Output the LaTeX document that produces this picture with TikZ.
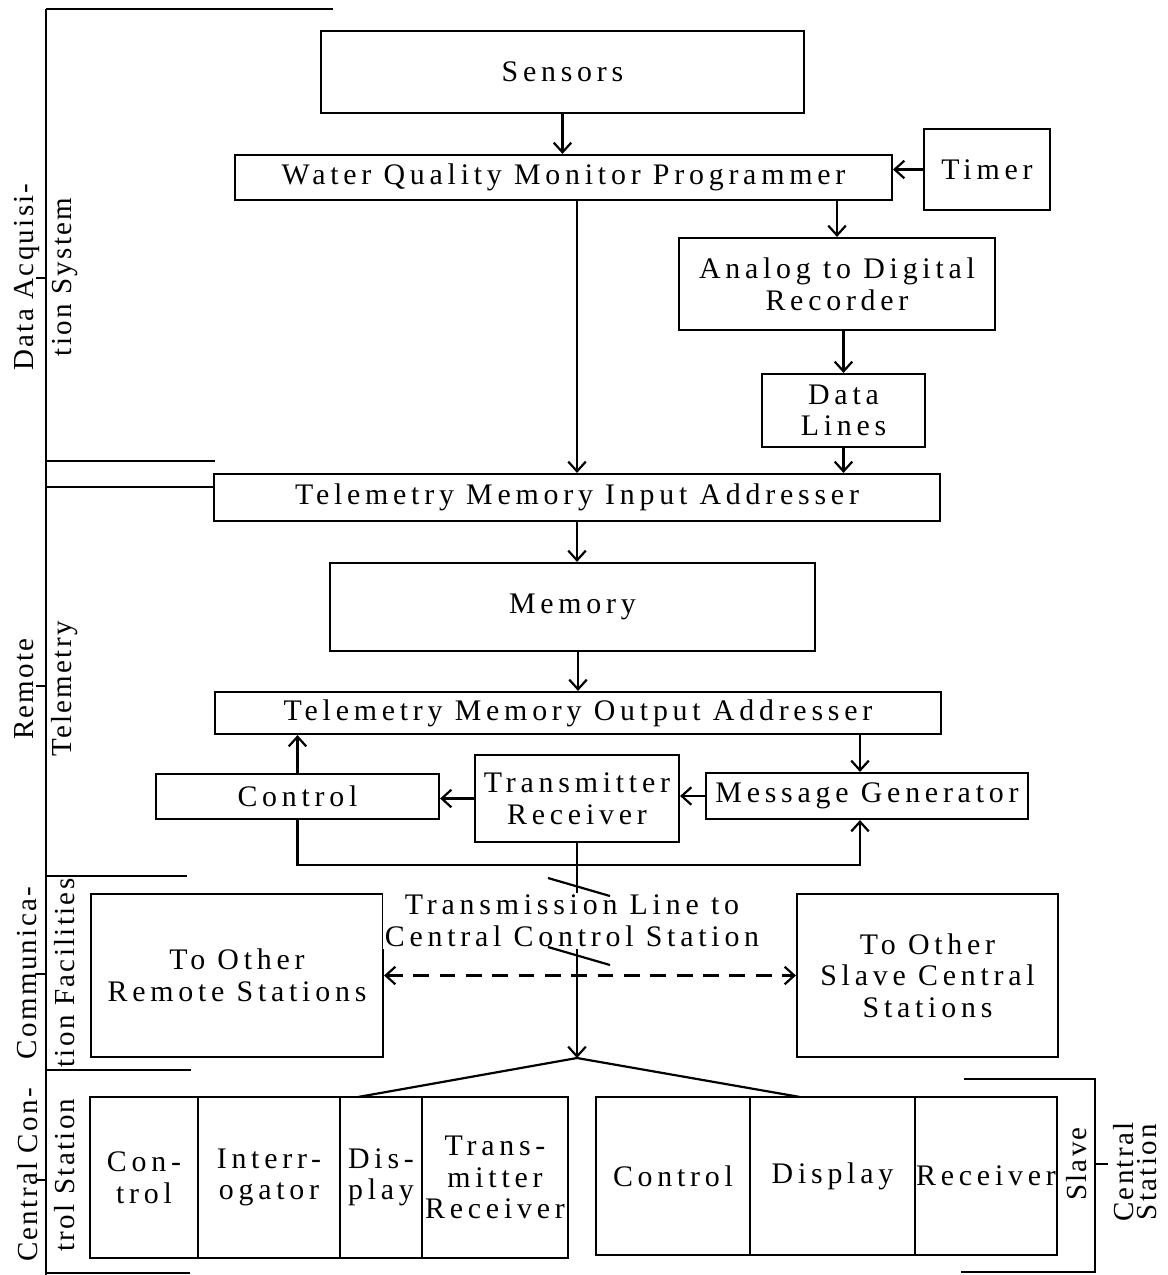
\documentclass[tikz,border=0pt]{standalone}
\usepackage{fontspec}
\setmainfont{Liberation Serif}[LetterSpace=16]
\usetikzlibrary{arrows.meta}

\newcommand{\typefont}{\fontsize{17}{18}\selectfont}

\begin{document}
\begin{tikzpicture}[x=0.02cm,y=-0.02cm,line width=1.25pt,
  >={Straight Barb[length=5.5pt,width=10pt]},
  every node/.style={font=\typefont},
  blk/.style={draw,align=center,inner sep=0pt},
  lbl/.style={rotate=90,align=center,inner sep=0pt,
    font=\fontsize{16.5}{18}\selectfont\addfontfeature{LetterSpace=8}}]

\useasboundingbox (0,0) rectangle (1168,1275);

% bracket on the left
\draw (46,9) -- (46,1275);
\draw (46,9) -- (333,9);
\draw (46,461) -- (215,461);
\draw (46,487) -- (215,487);
\draw (46,876) -- (187,876);
\draw (46,1070) -- (191,1070);
\draw (46,1273) -- (190,1273);
\draw (36,278) -- (46,278);
\draw (36,686) -- (46,686);
\draw (36,974) -- (46,974);
\draw (36,1180) -- (46,1180);

\node[lbl] at (46,277) {Data Acquisi-\\[3.5pt]tion System};
\node[lbl] at (46,689) {Remote\\[3.5pt]Telemetry};
\node[lbl] at (46,973) {Communica-\\[3.5pt]tion Facilities};
\node[lbl] at (46,1175) {Central Con-\\[3.5pt]trol Station};

% data acquisition
\node[blk,minimum width=9.66cm,minimum height=1.64cm] (sensors) at (562.5,72) {Sensors};
\node[blk,minimum width=13.14cm,minimum height=0.9cm] (wqmp) at (563.5,177.5) {Water Quality Monitor Programmer};
\node[blk,minimum width=2.52cm,minimum height=1.62cm] (timer) at (987,169.5) {Timer};
\node[blk,minimum width=6.32cm,minimum height=1.84cm] (adr) at (837,284) {Analog to Digital\\Recorder};
\node[blk,minimum width=3.26cm,minimum height=1.46cm] (dlines) at (843.5,410.5) {Data\\Lines};

% remote telemetry
\node[blk,minimum width=14.52cm,minimum height=0.94cm] (tmia) at (577,497.5) {Telemetry Memory Input Addresser};
\node[blk,minimum width=9.7cm,minimum height=1.76cm] (memory) at (572.5,607) {Memory};
\node[blk,minimum width=14.52cm,minimum height=0.84cm] (tmoa) at (578,713) {Telemetry Memory Output Addresser};
\node[blk,minimum width=5.66cm,minimum height=0.9cm] (rctrl) at (297.5,796.5) {Control};
\node[blk,minimum width=4.08cm,minimum height=1.74cm] (rtxrx) at (577,798.5) {Transmitter\\Receiver};
\node[blk,minimum width=6.44cm,minimum height=0.92cm] (msggen) at (867,796) {Message Generator};

% communication
\node[blk,minimum width=5.84cm,minimum height=3.26cm] (oremote) at (237,975.5) {To Other\\Remote Stations};
\node[blk,minimum width=5.22cm,minimum height=3.26cm] (oslave) at (927.5,975.5) {To Other\\Slave Central\\Stations};

% central control station
\node[blk,minimum width=2.16cm,minimum height=3.22cm] (cctl) at (144,1177.5) {Con-\\trol};
\node[blk,minimum width=2.84cm,minimum height=3.22cm] (cint) at (269,1177.5) {Interr-\\ogator};
\node[blk,minimum width=1.64cm,minimum height=3.22cm] (cdis) at (381,1177.5) {Dis-\\play};
\node[blk,minimum width=2.92cm,minimum height=3.22cm] (ctxr) at (495,1177.5) {Trans-\\mitter\\Receiver};

\node[blk,minimum width=3.08cm,minimum height=3.16cm] (sctl) at (673,1176) {Control};
\node[blk,minimum width=3.30cm,minimum height=3.16cm] (sdis) at (832.5,1176) {Display};
\node[blk,minimum width=2.84cm,minimum height=3.16cm] (srcv) at (986,1176) {Receiver};

% slave bracket
\draw (964,1079) -- (1095,1079) -- (1095,1272) -- (961,1272);
\draw (1095,1164) -- (1108,1164);
\node[lbl] at (1077,1164) {Slave};
\node[lbl] at (1135,1172) {Central\\[-4.5pt]Station};

% connectors
\coordinate (mgin) at (860,0);
\coordinate (loop) at (0,865);
\coordinate (fork) at (577,1058);
\coordinate (forkl) at (358,1097);
\coordinate (forkr) at (800,1097);

\draw[->] (sensors.south) -- (sensors.south |- wqmp.north);
\draw[->] (timer.west) -- (timer.west -| wqmp.east);
\draw[->] (adr.north |- wqmp.south) -- (adr.north);
\draw[->] (dlines.north |- adr.south) -- (dlines.north);
\draw[->] (dlines.south) -- (dlines.south |- tmia.north);
\draw[->] (tmia.north |- wqmp.south) -- (tmia.north);
\draw[->] (tmia.south) -- (tmia.south |- memory.north);
\draw[->] (tmoa.north |- memory.south) -- (tmoa.north);
\draw[->] (mgin |- tmoa.south) -- (mgin |- msggen.north);
\draw[->] (msggen.west) -- (msggen.west -| rtxrx.east);
\draw[->] (rtxrx.west) -- (rtxrx.west -| rctrl.east);
\draw[->] (rctrl.north) -- (rctrl.north |- tmoa.south);
\draw[->] (rctrl.south) -- (rctrl.south |- loop) -- (mgin |- loop) -- (mgin |- msggen.south);
\draw[->] (rtxrx.south) -- (fork);

\node[align=center,fill=white,inner sep=1pt] (tline) at (572,921) {Transmission Line to\\Central Control Station};
\draw (548,878) -- (610,896);
\draw (548,947) -- (610,965);

\draw[<->,dashed,dash pattern=on 9pt off 6pt] (oremote.east) -- (oslave.west);
\draw (fork) -- (forkl);
\draw (fork) -- (forkr);

\end{tikzpicture}
\end{document}
